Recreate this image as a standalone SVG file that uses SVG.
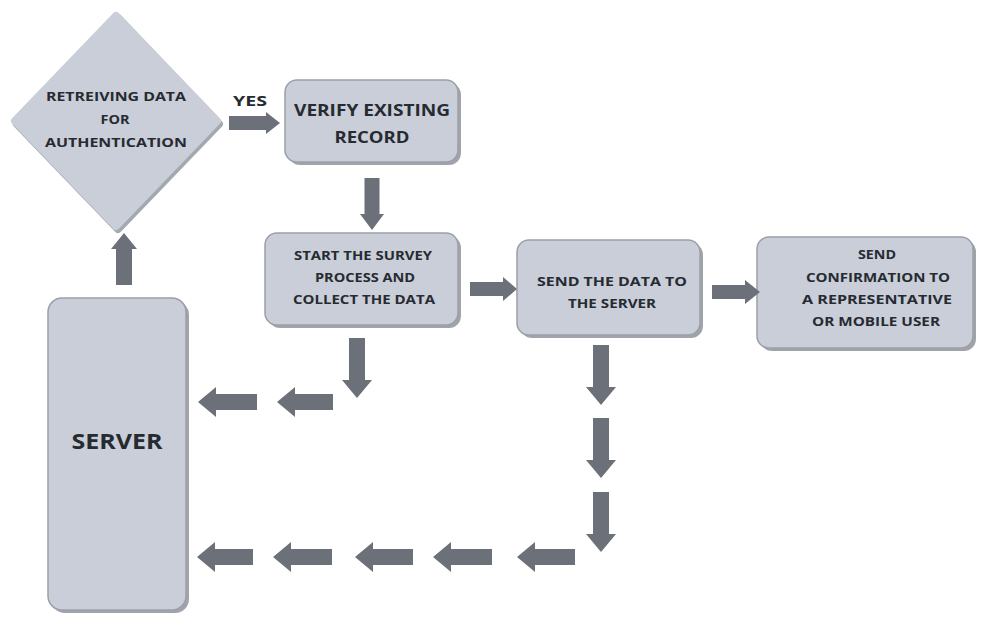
<svg xmlns="http://www.w3.org/2000/svg" width="995" height="636" viewBox="0 0 995 636">
<style>
.box{fill:#c9ced8;stroke:#9aa0a8;stroke-width:1.5}
.shadow{fill:#80868e;opacity:0.75}
.arrow{fill:#6c7179}
.t{font-family:"Open Sans","DejaVu Sans",sans-serif;font-weight:bold;fill:#262a31;text-anchor:middle;dominant-baseline:central}
.s{font-size:12px}
.m{font-size:16px}
</style>
<rect width="995" height="636" fill="#ffffff"/>
<g id="decision">
<polygon points="118,18 219,124 118,229 17,124" fill="#a3a9b1" stroke="#a3a9b1" stroke-width="8" stroke-linejoin="round"/>
<polygon points="116,16 217,121 116,226 15,121" fill="#c9ced8" stroke="#c9ced8" stroke-width="8" stroke-linejoin="round"/>
<text class="t s" x="116" y="96" textLength="140" lengthAdjust="spacingAndGlyphs">RETREIVING DATA</text>
<text class="t s" x="115" y="119" textLength="29" lengthAdjust="spacingAndGlyphs">FOR</text>
<text class="t s" x="116" y="142" textLength="142" lengthAdjust="spacingAndGlyphs">AUTHENTICATION</text>
</g>
<g id="verify">
<rect class="shadow" x="288" y="83" width="173" height="82" rx="12"/>
<rect class="box" x="285" y="80" width="173" height="82" rx="12"/>
<text class="t m" x="372" y="110" textLength="156" lengthAdjust="spacingAndGlyphs">VERIFY EXISTING</text>
<text class="t m" x="372" y="137" textLength="75" lengthAdjust="spacingAndGlyphs">RECORD</text>
</g>
<g id="survey">
<rect class="shadow" x="268" y="236" width="193" height="92" rx="12"/>
<rect class="box" x="265" y="233" width="193" height="92" rx="12"/>
<text class="t s" x="363" y="255" textLength="138" lengthAdjust="spacingAndGlyphs">START THE SURVEY</text>
<text class="t s" x="365" y="277" textLength="100" lengthAdjust="spacingAndGlyphs">PROCESS AND</text>
<text class="t s" x="364" y="299" textLength="142" lengthAdjust="spacingAndGlyphs">COLLECT THE DATA</text>
</g>
<g id="send">
<rect class="shadow" x="520" y="243" width="183" height="95" rx="12"/>
<rect class="box" x="517" y="240" width="183" height="95" rx="12"/>
<text class="t s" x="612" y="281" textLength="150" lengthAdjust="spacingAndGlyphs">SEND THE DATA TO</text>
<text class="t s" x="612" y="303" textLength="88" lengthAdjust="spacingAndGlyphs">THE SERVER</text>
</g>
<g id="confirm">
<rect class="shadow" x="760" y="240" width="216" height="111" rx="12"/>
<rect class="box" x="757" y="237" width="216" height="111" rx="12"/>
<text class="t s" x="877" y="254" textLength="38" lengthAdjust="spacingAndGlyphs">SEND</text>
<text class="t s" x="878" y="277" textLength="144" lengthAdjust="spacingAndGlyphs">CONFIRMATION TO</text>
<text class="t s" x="877" y="299" textLength="150" lengthAdjust="spacingAndGlyphs">A REPRESENTATIVE</text>
<text class="t s" x="876" y="321" textLength="128" lengthAdjust="spacingAndGlyphs">OR MOBILE USER</text>
</g>
<g id="server">
<rect class="shadow" x="51" y="301" width="138" height="312" rx="14"/>
<rect class="box" x="48" y="298" width="138" height="312" rx="14"/>
<text class="t" x="117" y="440" font-size="22" textLength="91" lengthAdjust="spacingAndGlyphs">SERVER</text>
</g>
<g id="yes-label">
<text class="t" x="250" y="100" font-size="14" textLength="34" lengthAdjust="spacingAndGlyphs">YES</text>
</g>
<g id="connectors">
<polygon class="arrow" points="229,116 266,116 266,112 280,123 266,134 266,130 229,130"/>
<polygon class="arrow" points="364.5,178 379.5,178 379.5,214 384,214 372,230 360,214 364.5,214"/>
<polygon class="arrow" points="116,285 132,285 132,249 137,249 124,233 111,249 116,249"/>
<polygon class="arrow" points="470,282 503,282 503,277 517,289 503,301 503,296 470,296"/>
<polygon class="arrow" points="712,285 745,285 745,280 760,292 745,304 745,299 712,299"/>
<polygon class="arrow" points="349,338 365,338 365,380 372,380 357,398 342,380 349,380"/>
<polygon class="arrow" points="333,394 295,394 295,387 277,402 295,417 295,410 333,410"/>
<polygon class="arrow" points="257,394 216,394 216,387 198,402 216,417 216,410 257,410"/>
<polygon class="arrow" points="593,345 609,345 609,387 616,387 601,405 586,387 593,387"/>
<polygon class="arrow" points="593,418 609,418 609,460 616,460 601,478 586,460 593,460"/>
<polygon class="arrow" points="593,492 609,492 609,534 616,534 601,552 586,534 593,534"/>
<polygon class="arrow" points="575,549 535,549 535,542 517,557 535,572 535,565 575,565"/>
<polygon class="arrow" points="492,549 451,549 451,542 433,557 451,572 451,565 492,565"/>
<polygon class="arrow" points="413,549 373,549 373,542 355,557 373,572 373,565 413,565"/>
<polygon class="arrow" points="332,549 291,549 291,542 273,557 291,572 291,565 332,565"/>
<polygon class="arrow" points="253,549 215,549 215,542 197,557 215,572 215,565 253,565"/>
</g>
</svg>
